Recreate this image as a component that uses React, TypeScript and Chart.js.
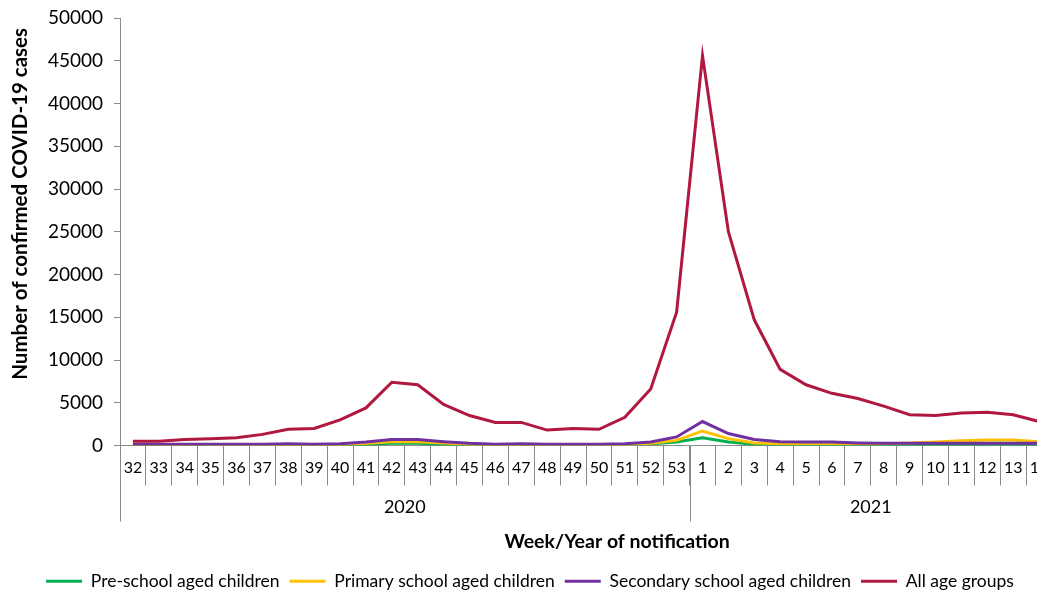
import React, { useEffect, useRef } from 'react';
import { Chart, registerables } from 'chart.js';

Chart.register(...registerables);

const weeks = [
  '32', '33', '34', '35', '36', '37', '38', '39', '40', '41', '42', '43', '44', '45', '46', '47', '48', '49', '50', '51', '52', '53',
  '1', '2', '3', '4', '5', '6', '7', '8', '9', '10', '11', '12', '13', '14',
];
const years = ['2020', '2021'];
const yearSpans = [22, 14];

const preSchool = [
  20, 20, 20, 20, 20, 20, 30, 30, 50, 150, 250, 250, 150, 100, 50, 50, 50, 50, 50, 80, 200, 400,
  900, 400, 150, 100, 100, 100, 100, 100, 100, 100, 100, 100, 100, 80,
];
const primary = [
  50, 50, 50, 50, 50, 50, 50, 50, 100, 250, 450, 450, 300, 150, 100, 100, 50, 50, 50, 100, 250, 600,
  1700, 800, 300, 200, 200, 200, 200, 200, 300, 400, 550, 650, 650, 450,
];
const secondary = [
  150, 150, 150, 150, 150, 150, 200, 150, 200, 400, 700, 700, 450, 250, 150, 200, 150, 150, 150, 200, 400, 1000,
  2800, 1400, 700, 450, 400, 400, 300, 250, 250, 250, 250, 250, 250, 250,
];
const allAges = [
  500, 500, 700, 800, 900, 1300, 1900, 2000, 3000, 4400, 7400, 7100, 4800, 3500, 2700, 2700, 1800, 2000, 1900, 3300, 6600, 15600,
  45600, 25000, 14700, 8900, 7100, 6100, 5500, 4600, 3600, 3500, 3800, 3900, 3600, 2800,
];

const seriesNames = [
  'Pre-school aged children',
  'Primary school aged children',
  'Secondary school aged children',
  'All age groups',
];
const seriesColors = ['#00B050', '#FFC000', '#7030A0', '#B01840'];

const yMin = 0;
const yMax = 50000;
const yStep = 5000;

const xTitle = 'Week/Year of notification';
const yTitle = 'Number of confirmed COVID-19 cases';

const FONT = 'Lato, "Noto Sans", sans-serif';
const AXIS_COLOR = '#8a8a8a';

const yearPlugin = {
  id: 'yearRow',
  afterDraw(chart: any) {
    const x = chart.scales.x;
    const area = chart.chartArea;
    const ctx = chart.ctx;
    const half = (x.getPixelForValue(1) - x.getPixelForValue(0)) / 2;
    ctx.save();
    ctx.strokeStyle = AXIS_COLOR;
    ctx.lineWidth = 1;
    ctx.fillStyle = '#000';
    ctx.font = `18px ${FONT}`;
    ctx.textAlign = 'center';
    ctx.textBaseline = 'middle';
    let start = 0;
    years.forEach((yr, i) => {
      const l = x.getPixelForValue(start) - half;
      const r = x.getPixelForValue(start + yearSpans[i] - 1) + half;
      const lx = Math.round(l) + 0.5;
      ctx.beginPath();
      ctx.moveTo(lx, area.bottom);
      ctx.lineTo(lx, area.bottom + 76);
      ctx.stroke();
      if (i === years.length - 1) {
        const rx = Math.round(r) + 0.5;
        ctx.beginPath();
        ctx.moveTo(rx, area.bottom);
        ctx.lineTo(rx, area.bottom + 76);
        ctx.stroke();
      }
      ctx.fillText(yr, (l + r) / 2, area.bottom + 62);
      start += yearSpans[i];
    });
    // x-axis title, placed as in the original figure
    ctx.font = `bold 19.5px ${FONT}`;
    ctx.fillText(xTitle, x.getPixelForValue(18.7), area.bottom + 96);
    ctx.restore();
  },
};

export default function App() {
  const canvasRef = useRef<HTMLCanvasElement | null>(null);

  useEffect(() => {
    if (!canvasRef.current) return;
    const data = [preSchool, primary, secondary, allAges];
    const chart = new Chart(canvasRef.current, {
      type: 'line',
      data: {
        labels: weeks,
        datasets: data.map((d, i) => ({
          label: seriesNames[i],
          data: d,
          borderColor: seriesColors[i],
          backgroundColor: seriesColors[i],
          borderWidth: 3,
          pointRadius: 0,
          pointHoverRadius: 0,
          tension: 0,
          fill: false,
          order: 3 - i,
        })),
      },
      options: {
        responsive: false,
        animation: false,
        devicePixelRatio: 1,
        layout: { padding: { left: 0, right: 6, top: 0, bottom: 8 } },
        plugins: {
          tooltip: { enabled: false },
          legend: {
            position: 'bottom',
            labels: {
              font: { family: FONT, size: 17.5 },
              color: '#000',
              boxWidth: 36,
              boxHeight: 3,
              padding: 10,
              sort: (a: any, b: any) => a.datasetIndex - b.datasetIndex,
              generateLabels: (c: any) =>
                (Chart.defaults.plugins.legend.labels as any).generateLabels(c).map((l: any) => ({ ...l, lineWidth: 0 })),
            },
          },
        },
        scales: {
          x: {
            type: 'category',
            offset: true,
            grid: {
              offset: true,
              drawOnChartArea: false,
              drawTicks: true,
              tickLength: 40,
              color: AXIS_COLOR,
            },
            border: { display: true, color: AXIS_COLOR },
            ticks: {
              autoSkip: false,
              maxRotation: 0,
              minRotation: 0,
              padding: -27,
              color: '#000',
              font: { family: FONT, size: 16 },
            },
            title: { display: false },
            afterFit: (scale: any) => {
              scale.height = 117;
            },
          },
          y: {
            min: yMin,
            max: yMax,
            grid: {
              drawOnChartArea: false,
              drawTicks: true,
              tickLength: 6,
              color: AXIS_COLOR,
            },
            border: { display: true, color: AXIS_COLOR },
            ticks: {
              stepSize: yStep,
              padding: 11,
              color: '#000',
              font: { family: FONT, size: 19 },
              callback: (v: any) => String(v),
            },
            title: {
              display: true,
              text: yTitle + '  ',
              align: 'end',
              color: '#000',
              font: { family: FONT, size: 20.5, weight: 'bold' },
              padding: { top: 0, bottom: 0 },
            },
            afterFit: (scale: any) => {
              scale.width = 112;
              scale.paddingTop = 10;
              scale.paddingBottom = 0;
            },
          },
        },
      },
      plugins: [yearPlugin],
    } as any);
    return () => chart.destroy();
  }, []);

  return (
    <div style={{ width: 1037, height: 590, overflow: 'hidden', marginBottom: -8, background: '#fff' }}>
      <canvas ref={canvasRef} width={1050} height={600} style={{ display: 'block', width: 1050, height: 600 }} />
    </div>
  );
}
